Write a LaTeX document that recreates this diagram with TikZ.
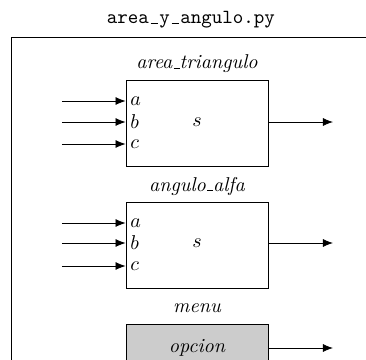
\documentclass[tikz,border=0pt]{standalone}
\usetikzlibrary{arrows.meta}
\newcommand{\lowbar}{\kern.06em\vbox{\hrule width.3em}}
\newcommand{\ttlowbar}{\makebox[0.525em]{\vbox{\hrule width.35em}}}
\begin{document}
\begin{tikzpicture}[x=0.5pt,y=-0.5pt,
  func/.style={draw, minimum width=71pt, minimum height=43pt, inner sep=0pt},
  menubox/.style={draw, fill=black!20, minimum width=71pt, minimum height=26pt, inner sep=0pt},
  port/.style={anchor=west, inner sep=0pt, font=\itshape},
  arr/.style={-{Latex[length=5pt,width=4pt]}},
  lbl/.style={font=\itshape}]
\useasboundingbox (0,0) rectangle (366,360);
\begin{scope}
\clip (0,0) rectangle (366,360);
\draw (11,400) -- (11,37) -- (400,37);
\end{scope}
\node (title) at (191,20) {\ttfamily area\ttlowbar y\ttlowbar angulo.py};
% box 1
\node[func] (f1) at (197,123) {};
\node[lbl] (f1name) at (197,64) {area\lowbar triangulo};
\node (f1s) at (197,122) {$s$};
\node[port] (f1a) at (130,101) {$a$};
\node[port] (f1b) at (130,122) {$b$};
\node[port] (f1c) at (130,144) {$c$};
\coordinate (i1a) at (62,101);
\coordinate (i1b) at (62,122);
\coordinate (i1c) at (62,144);
\coordinate (o1) at (333,122);
\draw[arr] (i1a) -- (f1.west |- i1a);
\draw[arr] (i1b) -- (f1.west |- i1b);
\draw[arr] (i1c) -- (f1.west |- i1c);
\draw[arr] (f1.east |- o1) -- (o1);
% box 2
\node[func] (f2) at (197,245) {};
\node[lbl] (f2name) at (197,186) {angulo\lowbar alfa};
\node (f2s) at (197,243) {$s$};
\node[port] (f2a) at (130,223) {$a$};
\node[port] (f2b) at (130,243) {$b$};
\node[port] (f2c) at (130,266) {$c$};
\coordinate (i2a) at (62,223);
\coordinate (i2b) at (62,243);
\coordinate (i2c) at (62,266);
\coordinate (o2) at (333,243);
\draw[arr] (i2a) -- (f2.west |- i2a);
\draw[arr] (i2b) -- (f2.west |- i2b);
\draw[arr] (i2c) -- (f2.west |- i2c);
\draw[arr] (f2.east |- o2) -- (o2);
% menu
\node[menubox] (m) at (197,350) {};
\node[lbl] (mname) at (197,308) {menu};
\node[lbl] (mop) at (197,348) {opcion};
\coordinate (o3) at (333,348);
\draw[arr] (m.east |- o3) -- (o3);
\end{tikzpicture}
\end{document}
